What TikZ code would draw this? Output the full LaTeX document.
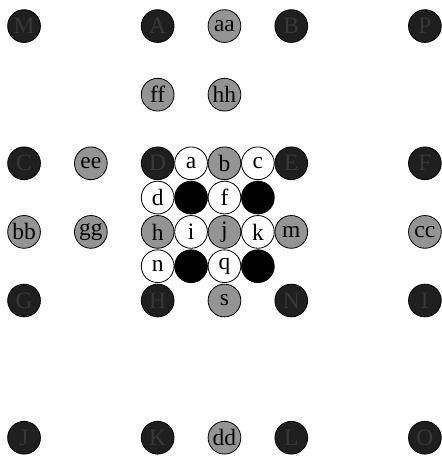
\documentclass[tikz,border=0pt]{standalone}
\usepackage{fontspec}
\setmainfont{Liberation Serif}
\usepackage{xcolor}
\usepackage{tikz}

\begin{document}
\begin{tikzpicture}[x=1cm, y=-1.027cm,
    dot/.style={circle, draw=black, line width=0.7pt, minimum size=0.98cm, inner sep=0pt, font=\fontsize{20}{20}\selectfont},
    darkdot/.style={dot, fill=black!88, text=black!78},
    greydot/.style={dot, fill=black!42, text=black},
    whitedot/.style={dot, fill=white, text=black},
    blackdot/.style={dot, fill=black}]
    \useasboundingbox (-0.72,-0.76) rectangle (12.49,12.62);
    % outer dark points
    \node[darkdot] (M) at (0,0) {M};
    \node[darkdot] (A) at (4,0) {A};
    \node[darkdot] (B) at (8,0) {B};
    \node[darkdot] (P) at (12,0) {P};
    \node[darkdot] (C) at (0,4) {C};
    \node[darkdot] (D) at (4,4) {D};
    \node[darkdot] (E) at (8,4) {E};
    \node[darkdot] (F) at (12,4) {F};
    \node[darkdot] (G) at (0,8) {G};
    \node[darkdot] (H) at (4,8) {H};
    \node[darkdot] (N) at (8,8) {N};
    \node[darkdot] (I) at (12,8) {I};
    \node[darkdot] (J) at (0,12) {J};
    \node[darkdot] (K) at (4,12) {K};
    \node[darkdot] (L) at (8,12) {L};
    \node[darkdot] (O) at (12,12) {O};
    % grey points
    \node[greydot] (aa) at (6,0) {aa};
    \node[greydot] (ff) at (4,2) {ff};
    \node[greydot] (hh) at (6,2) {hh};
    \node[greydot] (ee) at (2,4) {ee};
    \node[greydot] (bb) at (0,6) {bb};
    \node[greydot] (gg) at (2,6) {gg};
    \node[greydot] (cc) at (12,6) {cc};
    \node[greydot] (dd) at (6,12) {dd};
    \node[greydot] (b) at (6,4) {b};
    \node[greydot] (h) at (4,6) {h};
    \node[greydot] (j) at (6,6) {j};
    \node[greydot] (m) at (8,6) {m};
    \node[greydot] (s) at (6,8) {s};
    % white points
    \node[whitedot] (a) at (5,4) {a};
    \node[whitedot] (c) at (7,4) {c};
    \node[whitedot] (d) at (4,5) {d};
    \node[whitedot] (f) at (6,5) {f};
    \node[whitedot] (i) at (5,6) {i};
    \node[whitedot] (k) at (7,6) {k};
    \node[whitedot] (n) at (4,7) {n};
    \node[whitedot] (q) at (6,7) {q};
    % black points
    \node[blackdot] (e) at (5,5) {};
    \node[blackdot] (g) at (7,5) {};
    \node[blackdot] (o) at (5,7) {};
    \node[blackdot] (r) at (7,7) {};
\end{tikzpicture}
\end{document}
